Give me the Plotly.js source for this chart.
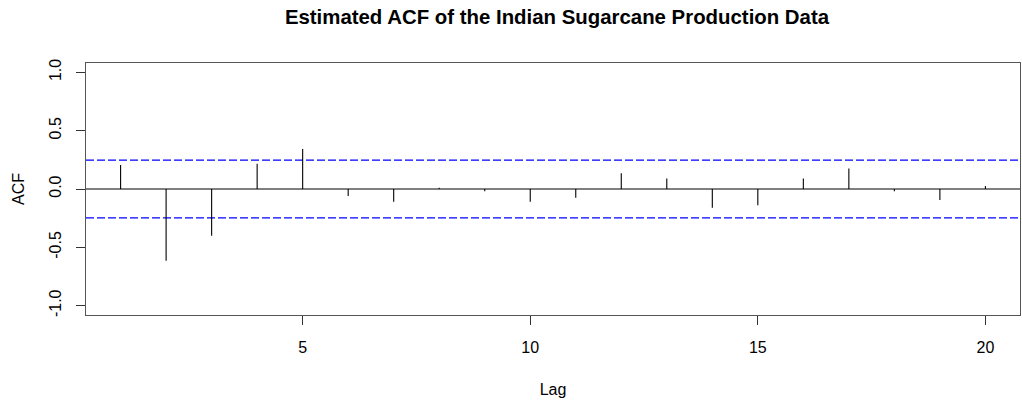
<!DOCTYPE html>
<html>
<head>
<meta charset="utf-8">
<script src="https://cdn.plot.ly/plotly-3.0.1.min.js"></script>
<style>html,body{margin:0;padding:0;background:#fff;}#chart{width:1022px;height:401px;}</style>
</head>
<body>
<div id="chart"></div>
<script>
// Data
const lags = [1,2,3,4,5,6,7,8,9,10,11,12,13,14,15,16,17,18,19,20];
const acfValues = [0.205,-0.616,-0.40,0.216,0.342,-0.06,-0.11,0.01,-0.02,-0.11,-0.075,0.135,0.09,-0.16,-0.14,0.09,0.175,-0.02,-0.095,0.025];
const ciBound = 0.248;
const xTicks = [5,10,15,20];
const yTicks = [-1.0,-0.5,0.0,0.5,1.0];
const yTickText = ["-1.0","-0.5","0.0","0.5","1.0"];

// Build vertical spikes (lag, 0) -> (lag, acf)
const sx = [], sy = [];
lags.forEach((l, i) => { sx.push(l, l, null); sy.push(0, acfValues[i], null); });

const font = "Liberation Sans, Arial, sans-serif";
const traces = [
  {x: [0.24, 20.76], y: [0, 0], mode: 'lines', line: {color: '#000', width: 1}, hoverinfo: 'skip', showlegend: false},
  {x: [0.24, 20.76], y: [ciBound, ciBound], mode: 'lines', line: {color: '#0000ff', width: 1.3, dash: '8px,3px'}, hoverinfo: 'skip', showlegend: false},
  {x: [0.24, 20.76], y: [-ciBound, -ciBound], mode: 'lines', line: {color: '#0000ff', width: 1.3, dash: '8px,3px'}, hoverinfo: 'skip', showlegend: false},
  {x: sx, y: sy, mode: 'lines', line: {color: '#000', width: 1.1}, showlegend: false}
];

const layout = {
  width: 1022, height: 401,
  margin: {l: 86, r: 1.5, t: 62.5, b: 85.5},
  paper_bgcolor: '#fff', plot_bgcolor: '#fff',
  font: {family: font, color: '#000', size: 16},
  title: {text: '<b>Estimated ACF of the Indian Sugarcane Production Data</b>', x: 0.545, xanchor: 'center', y: 0.958, yanchor: 'middle', font: {family: font, size: 20.4, color: '#000'}},
  xaxis: {
    range: [0.24, 20.76], tickvals: xTicks, ticktext: xTicks.map(String),
    ticks: 'outside', ticklen: 9, tickcolor: '#333', tickwidth: 1,
    showline: true, linecolor: '#555', linewidth: 1.3, mirror: true,
    showgrid: false, zeroline: false,
    tickfont: {family: font, size: 16, color: '#000'},
    ticklabelstandoff: 8,
    title: {text: 'Lag', font: {family: font, size: 16, color: '#000'}, standoff: 29}
  },
  yaxis: {
    range: [-1.08, 1.08], tickvals: yTicks, ticktext: yTickText, tickangle: -90,
    ticks: 'outside', ticklen: 9, tickcolor: '#333', tickwidth: 1,
    showline: true, linecolor: '#555', linewidth: 1.3, mirror: true,
    showgrid: false, zeroline: false,
    tickfont: {family: font, size: 16, color: '#000'},
    ticklabelstandoff: 8,
    title: {text: 'ACF', font: {family: font, size: 16, color: '#000'}, standoff: 18}
  }
};

Plotly.newPlot('chart', traces, layout, {staticPlot: true, displayModeBar: false});
</script>
</body>
</html>
